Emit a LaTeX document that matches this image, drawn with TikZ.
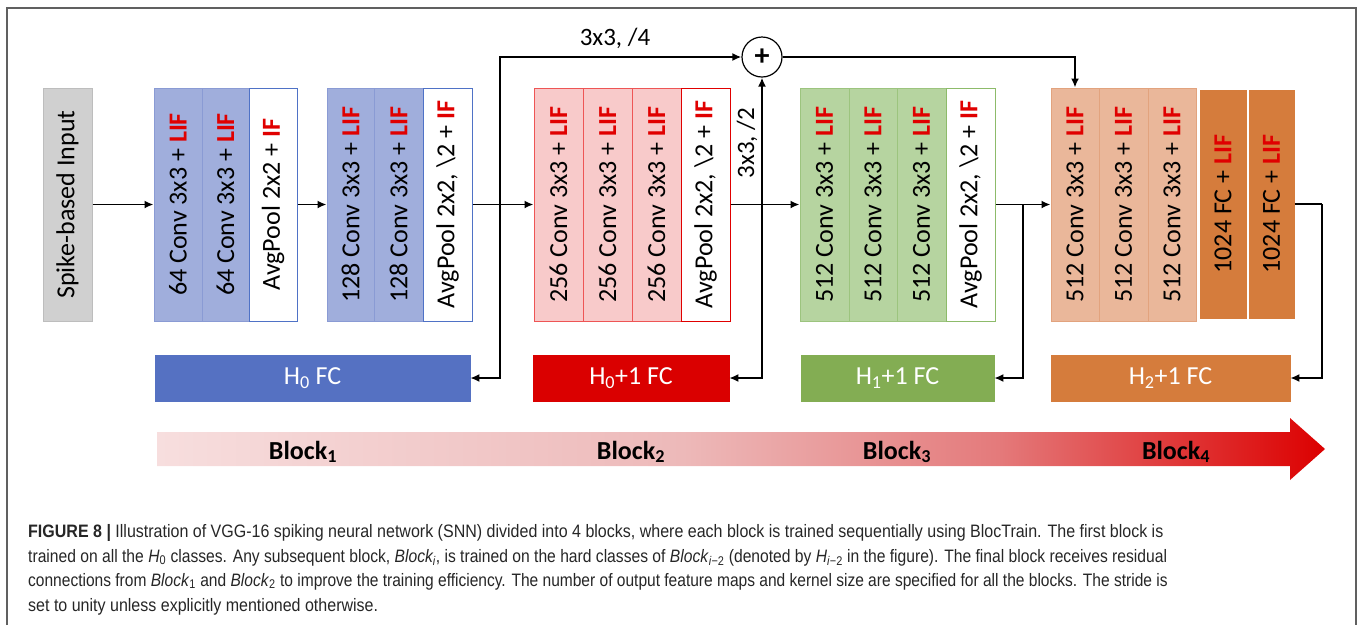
\documentclass[tikz,border=0pt]{standalone}
\usepackage{fontspec}
\setmainfont{Carlito}
\newfontfamily\capfont{Liberation Sans}[FakeStretch=0.89]
\usetikzlibrary{arrows.meta}
\definecolor{lifred}{HTML}{E00000}
\definecolor{grayfill}{HTML}{D0D0D0}
\definecolor{graydraw}{HTML}{BDBDBD}
\definecolor{bluefill}{HTML}{A0AEDC}
\definecolor{bluedraw}{HTML}{8A9BD4}
\definecolor{bluepool}{HTML}{4F72C6}
\definecolor{bluefc}{HTML}{5571C2}
\definecolor{redfill}{HTML}{F8CACA}
\definecolor{reddraw}{HTML}{EE5555}
\definecolor{redpool}{HTML}{E00000}
\definecolor{redfc}{HTML}{DA0000}
\definecolor{greenfill}{HTML}{B6D4A0}
\definecolor{greendraw}{HTML}{9CC47E}
\definecolor{greenpool}{HTML}{8DBB6A}
\definecolor{greenfc}{HTML}{83AD53}
\definecolor{orfill}{HTML}{EAB79A}
\definecolor{ordraw}{HTML}{E2A37E}
\definecolor{orfc}{HTML}{D57C3C}
\definecolor{framecol}{HTML}{606060}
\definecolor{capcol}{HTML}{262626}
\definecolor{shA}{HTML}{F7DEDE}
\definecolor{shB}{HTML}{EDB9B9}
\definecolor{shC}{HTML}{E47A7B}
\definecolor{shD}{HTML}{DC0000}
\pgfdeclarehorizontalshading{blockshade}{100bp}{color(0bp)=(shA); color(25bp)=(shA); color(47.5bp)=(shB); color(61bp)=(shC); color(75bp)=(shD); color(100bp)=(shD)}
\newcommand{\lifx}[1]{\textcolor{lifred}{\bfseries #1}}
\begin{document}
\begin{tikzpicture}[x=1pt,y=-1pt,
  lay/.style={draw, line width=1pt, inner sep=0pt, minimum height=233pt, anchor=center, font=\fontsize{26}{28}\selectfont},
  gbox/.style={lay, fill=grayfill, draw=graydraw},
  bbox/.style={lay, fill=bluefill, draw=bluedraw},
  bpool/.style={lay, fill=white, draw=bluepool},
  rbox/.style={lay, fill=redfill, draw=reddraw},
  rpool/.style={lay, fill=white, draw=redpool},
  gnbox/.style={lay, fill=greenfill, draw=greendraw},
  gnpool/.style={lay, fill=white, draw=greenpool},
  obox/.style={lay, fill=orfill, draw=ordraw},
  fcbox/.style={lay, fill=orfc, draw=orfc, minimum height=228pt},
  hbox/.style={draw, line width=0.6pt, inner sep=0pt, minimum height=46pt, text=white, font=\fontsize{26}{28}\selectfont},
  arr/.style={line width=1.8pt, -{Latex[length=9pt,width=8pt]}},
  ln/.style={line width=1.8pt},
  lbl/.style={inner sep=0pt, font=\fontsize{25}{28}\selectfont},
  blk/.style={inner sep=0pt, font=\fontsize{26}{28}\selectfont\bfseries},
  captxt/.style={inner sep=0pt, anchor=base west, text=capcol, font=\capfont\fontsize{18}{22}\selectfont}
]
\useasboundingbox (0,0) rectangle (1358,625);
% frame
\draw[draw=framecol, line width=1.5pt] (7,625) -- (7,8) -- (1356,8) -- (1356,625);

% input
\node[gbox, minimum width=49pt] (in) at (67.5,204.5) {\rotatebox{90}{Spike-based Input}};
% block 1
\node[bbox, minimum width=48pt] (c1) at (178,204.5) {\rotatebox{90}{64 Conv 3x3 + \lifx{LIF}}};
\node[bbox, minimum width=47pt] (c2) at (225.5,204.5) {\rotatebox{90}{64 Conv 3x3 + \lifx{LIF}}};
\node[bpool, minimum width=48pt] (p1) at (273,204.5) {\rotatebox{90}{AvgPool 2x2 + \lifx{IF}}};
\node[bbox, minimum width=47pt] (d1) at (350.5,204.5) {\rotatebox{90}{128 Conv 3x3 + \lifx{LIF}}};
\node[bbox, minimum width=49pt] (d2) at (398.5,204.5) {\rotatebox{90}{128 Conv 3x3 + \lifx{LIF}}};
\node[bpool, minimum width=49pt] (p2) at (447.5,204.5) {\rotatebox{90}{AvgPool 2x2, \textbackslash 2 + \lifx{IF}}};
% block 2
\node[rbox, minimum width=49pt] (r1) at (558.5,204.5) {\rotatebox{90}{256 Conv 3x3 + \lifx{LIF}}};
\node[rbox, minimum width=49pt] (r2) at (607.5,204.5) {\rotatebox{90}{256 Conv 3x3 + \lifx{LIF}}};
\node[rbox, minimum width=49pt] (r3) at (656.5,204.5) {\rotatebox{90}{256 Conv 3x3 + \lifx{LIF}}};
\node[rpool, minimum width=49pt] (p3) at (705.5,204.5) {\rotatebox{90}{AvgPool 2x2, \textbackslash 2 + \lifx{IF}}};
% block 3
\node[gnbox, minimum width=49pt] (g1) at (824.5,204.5) {\rotatebox{90}{512 Conv 3x3 + \lifx{LIF}}};
\node[gnbox, minimum width=48pt] (g2) at (873,204.5) {\rotatebox{90}{512 Conv 3x3 + \lifx{LIF}}};
\node[gnbox, minimum width=49pt] (g3) at (921.5,204.5) {\rotatebox{90}{512 Conv 3x3 + \lifx{LIF}}};
\node[gnpool, minimum width=49pt] (p4) at (970.5,204.5) {\rotatebox{90}{AvgPool 2x2, \textbackslash 2 + \lifx{IF}}};
% block 4
\node[obox, minimum width=48pt] (o1) at (1075,204.5) {\rotatebox{90}{512 Conv 3x3 + \lifx{LIF}}};
\node[obox, minimum width=49pt] (o2) at (1123.5,204.5) {\rotatebox{90}{512 Conv 3x3 + \lifx{LIF}}};
\node[obox, minimum width=48pt] (o3) at (1172,204.5) {\rotatebox{90}{512 Conv 3x3 + \lifx{LIF}}};
\node[fcbox, minimum width=46pt] (f1) at (1223,204) {\rotatebox{90}{1024 FC + \lifx{LIF}}};
\node[fcbox, minimum width=45pt] (f2) at (1271.5,204) {\rotatebox{90}{1024 FC + \lifx{LIF}}};

% head FC boxes
\node[hbox, fill=bluefc, draw=bluefc, minimum width=315pt] (h0) at (312.5,378) {H\textsubscript{0} FC};
\node[hbox, fill=redfc, draw=redfc, minimum width=196pt] (h01) at (631,378) {H\textsubscript{0}+1 FC};
\node[hbox, fill=greenfc, draw=greenfc, minimum width=193pt] (h11) at (897.5,378) {H\textsubscript{1}+1 FC};
\node[hbox, fill=orfc, draw=orfc, minimum width=239pt] (h21) at (1170.5,378) {H\textsubscript{2}+1 FC};

% adder
\node[circle, draw, line width=1.2pt, minimum size=40pt, inner sep=0pt, font=\fontsize{30}{30}\selectfont\bfseries] (plus) at (762,57) {+};

% junctions
\coordinate (j1) at (500,204.5);
\coordinate (j2) at (762,204.5);
\coordinate (j3) at (1023,204.5);
\coordinate (j4) at (1322,204);

% connectors
\draw[arr] (in) -- (c1);
\draw[arr] (p1) -- (d1);
\draw[arr] (p2) -- (r1);
\draw[arr] (j1) |- (h0);
\draw[arr] (j1) |- (plus);
\draw[arr] (p3) -- (g1);
\draw[arr] (j2) |- (h01);
\draw[arr] (j2) -- (plus);
\draw[arr] (plus) -| (o1);
\draw[arr] (p4) -- (o1);
\draw[arr] (j3) |- (h11);
\draw[ln] (f2) -- (j4);
\draw[arr] (j4) |- (h21);

% labels
\node[lbl] (l4) at (615,38) {3x3, /4};
\node[lbl, rotate=90] (l2) at (747,143) {3x3, /2};

% gradient arrow
\shade[shading=blockshade] (157,432) -- (1290,432) -- (1290,418) -- (1325,449) -- (1290,480) -- (1290,466) -- (157,466) -- cycle;
\node[blk] (b1) at (303,452) {Block\textsubscript{1}};
\node[blk] (b2) at (631,452) {Block\textsubscript{2}};
\node[blk] (b3) at (897,452) {Block\textsubscript{3}};
\node[blk] (b4) at (1176,452) {Block\textsubscript{4}};

% caption
\node[captxt] (cap1) at (28,537) {\textbf{FIGURE 8 |} Illustration of VGG-16 spiking neural network (SNN) divided into 4 blocks, where each block is trained sequentially using BlocTrain. The first block is};
\node[captxt] (cap2) at (28,562) {\scalebox{0.977}[1]{trained on all the \textit{H}\textsubscript{0} classes. Any subsequent block, \textit{Block\textsubscript{i}}, is trained on the hard classes of \textit{Block}\textsubscript{\textit{i}−2} (denoted by \textit{H}\textsubscript{\textit{i}−2} in the figure). The final block receives residual}};
\node[captxt] (cap3) at (28,586) {\scalebox{0.97}[1]{connections from \textit{Block}\textsubscript{1} and \textit{Block}\textsubscript{2} to improve the training efficiency. The number of output feature maps and kernel size are specified for all the blocks. The stride is}};
\node[captxt] (cap4) at (28,611) {set to unity unless explicitly mentioned otherwise.};
\end{tikzpicture}
\end{document}
